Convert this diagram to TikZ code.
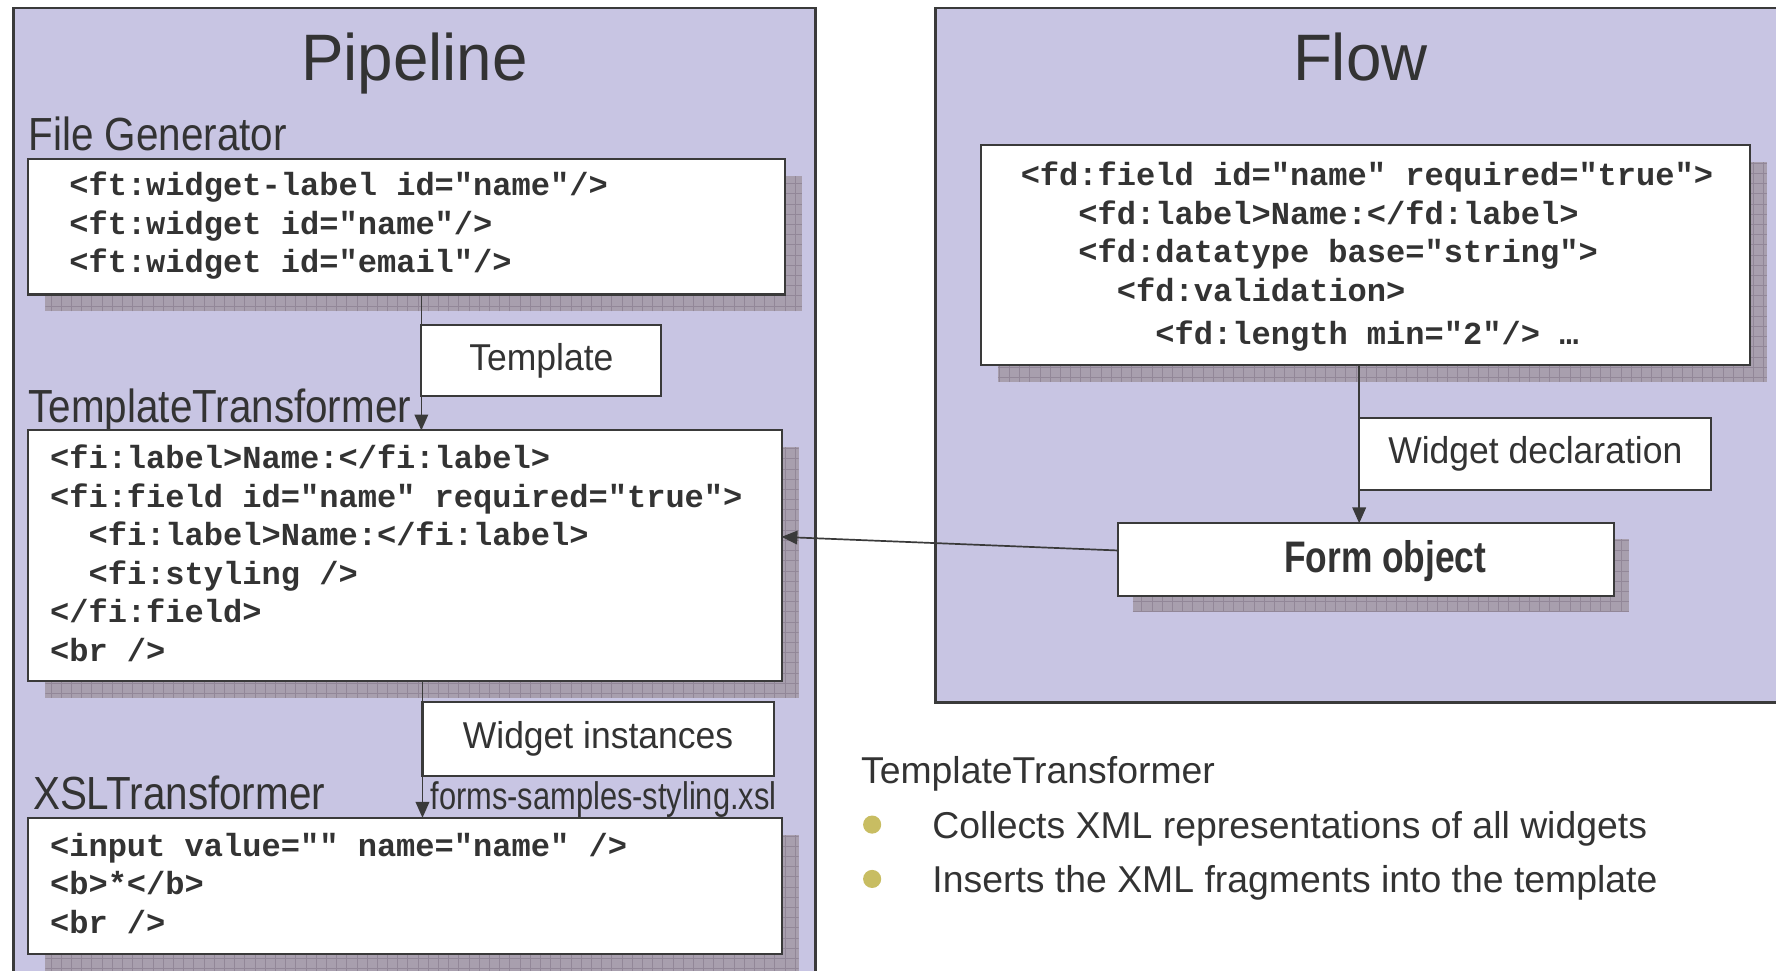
\documentclass[tikz,border=0pt]{standalone}
\usepackage{fontspec}
\setmainfont{Liberation Sans}
\newfontfamily\codefont{Liberation Mono}
\newfontfamily\titlefont{Liberation Sans}[FakeStretch=0.97]
\newfontfamily\stagefont{Liberation Sans}[FakeStretch=0.87]
\newfontfamily\tagfont{Liberation Sans}[FakeStretch=0.95]
\newfontfamily\filefont{Liberation Sans}[FakeStretch=0.80]
\newfontfamily\formfont{Liberation Sans}[FakeStretch=0.80]
\usetikzlibrary{arrows.meta,calc}

\pgfdeclarelayer{panellayer}
\pgfdeclarelayer{shadelayer}
\pgfsetlayers{panellayer,shadelayer,main}

\definecolor{panelfill}{RGB}{200,197,227}
\definecolor{ink}{RGB}{51,51,51}
\definecolor{edge}{RGB}{58,58,58}
\definecolor{shadefill}{RGB}{168,159,174}
\definecolor{shadegrid}{RGB}{146,135,152}
\definecolor{bulletcol}{RGB}{200,189,98}

\tikzset{
  panel/.style={fill=panelfill},
  panelrim/.style={draw=edge, line width=2.2pt},
  box/.style={draw=edge, line width=1.8pt, fill=white, anchor=north west,
    inner sep=0pt, outer sep=0pt, text=ink},
  dropshade/.style={fill=shadefill,
    path picture={\draw[shadegrid, line width=0.5pt, step=9pt]
      (path picture bounding box.south west) grid (path picture bounding box.north east);}},
  code/.style={anchor=base west, inner sep=0pt, text=ink,
    font=\codefont\bfseries\fontsize{28.3}{34}\selectfont},
  title/.style={anchor=base, inner sep=0pt, text=ink, font=\titlefont\fontsize{58}{60}\selectfont},
  stage/.style={anchor=base west, inner sep=0pt, text=ink, font=\stagefont\fontsize{41}{43}\selectfont},
  tag/.style={box, font=\tagfont\fontsize{33}{35}\selectfont},
  note/.style={anchor=base west, inner sep=0pt, text=ink, font=\fontsize{33}{35}\selectfont},
  conn/.style={draw=edge, line width=1.5pt, -{Triangle[length=14pt,width=12pt]}},
  dot/.style={circle, fill=bulletcol, minimum size=16pt, inner sep=0pt},
}

\begin{document}
\begin{tikzpicture}[x=1pt,y=-1pt]
\useasboundingbox (0,0) rectangle (1568,857);

% ---- panels -------------------------------------------------------------
\begin{pgfonlayer}{panellayer}
  \fill[panel] (12,7) rectangle (720,857);
  \draw[panelrim] (12,857) -- (12,7) -- (720,7) -- (720,857);
  \fill[panel] (826,7) rectangle (1568,620);
  \draw[panelrim] (1568,7) -- (826,7) -- (826,620) -- (1568,620);
\end{pgfonlayer}

\node[title] (ptitle) at (366,71.5) {Pipeline};
\node[title] (ftitle) at (1201,71.5) {Flow};

% ---- pipeline stages ----------------------------------------------------
\node[stage] (fglabel) at (25,133) {File Generator};
\node[box, minimum width=668pt, minimum height=120pt] (fgbox) at (25,140) {};
\node[code] (fgcode) at (61,173) {\begin{tabular}[t]{@{}l@{}}
<ft:widget-label id="name"/>\\
<ft:widget id="name"/>\\
<ft:widget id="email"/>
\end{tabular}};

\node[stage] (ttlabel) at (25,373) {TemplateTransformer};
\node[box, minimum width=665pt, minimum height=221pt] (ttbox) at (25,380) {};
\node[code] (ttcode) at (44,414) {\begin{tabular}[t]{@{}l@{}}
<fi:label>Name:</fi:label>\\
<fi:field id="name" required="true">\\
\phantom{aa}<fi:label>Name:</fi:label>\\
\phantom{aa}<fi:styling />\\
</fi:field>\\
<br />
\end{tabular}};

\node[stage] (xsllabel) at (29,715) {XSLTransformer};
\node[box, minimum width=665pt, minimum height=120pt] (xslbox) at (25,722) {};
\node[code] (xslcode) at (44,756) {\begin{tabular}[t]{@{}l@{}}
<input value="" name="name" />\\
<b>*</b>\\
<br />
\end{tabular}};

\node[tag, minimum width=212pt, minimum height=63pt] (tpl) at (372,287) {Template};
\node[tag, minimum width=310pt, minimum height=65pt] (wi) at (373,620) {Widget instances};
\node[anchor=base west, inner sep=0pt, text=ink, font=\filefont\fontsize{34}{36}\selectfont]
  (xslfile) at (380,715) {forms-samples-styling.xsl};

% ---- flow side ----------------------------------------------------------
\node[box, minimum width=679pt, minimum height=194pt] (flowbox) at (866,128) {};
\node[code] (flowcode) at (901,164) {\begin{tabular}[t]{@{}l@{}}
<fd:field id="name" required="true">\\
\phantom{aaa}<fd:label>Name:</fd:label>\\
\phantom{aaa}<fd:datatype base="string">\\
\phantom{aaaaa}<fd:validation>\\[4pt]
\phantom{aaaaaaa}<fd:length min="2"/> …
\end{tabular}};

\node[tag, minimum width=311pt, minimum height=64pt] (wd) at (1200,369) {Widget declaration};
\node[box, minimum width=438pt, minimum height=64pt] (form) at (987,462) {};
\node[inner sep=0pt, text=ink, font=\formfont\bfseries\fontsize{39}{41}\selectfont]
  (formtext) at (1223,495) {Form object};

% ---- drop shadows -------------------------------------------------------
\begin{pgfonlayer}{shadelayer}
  \foreach \b in {fgbox,ttbox,xslbox,flowbox}
    \path[dropshade] ([shift={(15pt,-15pt)}]\b.north west)
                     rectangle ([shift={(15pt,-15pt)}]\b.south east);
  \path[dropshade] ([shift={(13pt,-14pt)}]form.north west)
                   rectangle ([shift={(13pt,-14pt)}]form.south east);
\end{pgfonlayer}

% ---- connectors ---------------------------------------------------------
\draw[conn] (fgbox.south -| tpl.west) -- (ttbox.north -| tpl.west);
\draw[conn] (ttbox.south -| wi.west) -- (xslbox.north -| wi.west);
\draw[conn] (flowbox.south -| wd.west) -- (form.north -| wd.west);
\draw[conn] ([yshift=8pt]form.west) -- ([yshift=16.5pt]ttbox.east);

% ---- notes --------------------------------------------------------------
\node[note] (ttnote) at (760,692) {TemplateTransformer};
\node[dot] (dot1) at (770,728) {};
\node[note] (item1) at (823,740) {Collects XML representations of all widgets};
\node[dot] (dot2) at (770,776) {};
\node[note] (item2) at (823,788) {Inserts the XML fragments into the template};
\end{tikzpicture}
\end{document}
